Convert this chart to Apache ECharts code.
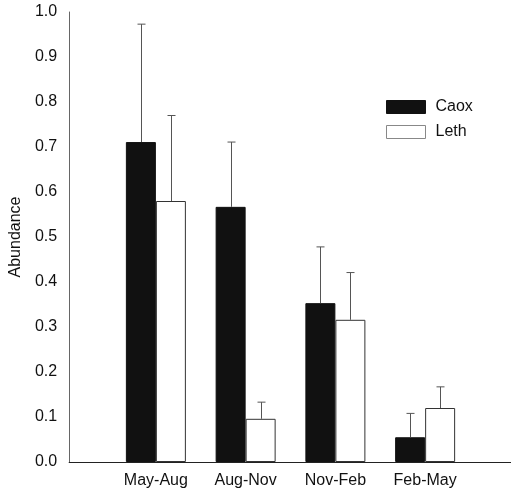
<!DOCTYPE html>
<html>
<head>
<meta charset="utf-8">
<script src="https://cdn.jsdelivr.net/npm/echarts@6/dist/echarts.min.js"></script>
<style>
  html, body { margin: 0; padding: 0; background: #fff; }
  #chart { width: 511px; height: 491px; }
</style>
</head>
<body>
<div id="chart"></div>
<script>
const periods = ["May-Aug", "Aug-Nov", "Nov-Feb", "Feb-May"];
const caoxMean = [0.711, 0.567, 0.353, 0.055];
const caoxSE = [0.262, 0.144, 0.125, 0.053];
const lethMean = [0.58, 0.096, 0.316, 0.12];
const lethSE = [0.19, 0.037, 0.105, 0.047];
const yTicks = [0, 0.1, 0.2, 0.3, 0.4, 0.5, 0.6, 0.7, 0.8, 0.9, 1.0];

const BAR_W = 30;
const font = "'Liberation Sans', Arial, sans-serif";

const chart = echarts.init(document.getElementById("chart"));

// error bars: side -1 = Caox (left), +1 = Leth (right)
const errorSeries = (mean, se, side) => ({
  type: "custom",
  xAxisIndex: 0,
  yAxisIndex: 0,
  z: 5,
  silent: true,
  data: mean.map((m, i) => [i, m, m + se[i]]),
  renderItem: (params, api) => {
    const base = api.coord([api.value(0), api.value(1)]);
    const top = api.coord([api.value(0), api.value(2)]);
    const x = Math.round(base[0] + (side * BAR_W) / 2) + 0.5;
    const style = { stroke: "#555", lineWidth: 1 };
    return {
      type: "group",
      children: [
        { type: "line", shape: { x1: x, y1: base[1], x2: x, y2: top[1] }, style },
        { type: "line", shape: { x1: x - 4, y1: top[1], x2: x + 4, y2: top[1] }, style },
      ],
    };
  },
});

const option = {
  animation: false,
  backgroundColor: "#fff",
  textStyle: { fontFamily: font },
  grid: [
    { left: 111, right: 41, top: 12, bottom: 29 },
    { left: 65, right: 0, top: 12, bottom: 29 },
  ],
  legend: {
    orient: "vertical",
    left: 386,
    top: 99,
    padding: 0,
    itemWidth: 39,
    itemHeight: 13,
    itemGap: 9,
    icon: "rect",
    textStyle: { fontSize: 16, color: "#111", fontFamily: font, padding: [0, 0, 0, 5] },
    data: [
      { name: "Caox", itemStyle: { color: "#111", borderColor: "#111", borderWidth: 1 } },
      { name: "Leth", itemStyle: { color: "#fff", borderColor: "#888", borderWidth: 1 } },
    ],
  },
  xAxis: [
    {
      type: "category",
      gridIndex: 0,
      data: periods,
      axisLine: { show: false },
      axisTick: { show: false },
      axisLabel: { fontSize: 16, color: "#111", margin: 11, fontFamily: font },
    },
    {
      type: "category",
      gridIndex: 1,
      data: [""],
      axisLine: { lineStyle: { color: "#222", width: 1 } },
      axisTick: { show: false },
      axisLabel: { show: false },
    },
  ],
  yAxis: [
    {
      type: "value",
      gridIndex: 0,
      min: 0,
      max: 1,
      interval: 0.1,
      show: false,
      splitLine: { show: false },
    },
    {
      type: "value",
      gridIndex: 1,
      min: 0,
      max: 1,
      interval: 0.1,
      splitLine: { show: false },
      axisLine: { show: true, lineStyle: { color: "#666", width: 1 } },
      axisTick: { show: false },
      axisLabel: {
        fontSize: 16,
        color: "#111",
        margin: 12,
        fontFamily: font,
        formatter: (v) => (yTicks.some((t) => Math.abs(t - v) < 1e-6) ? v.toFixed(1) : ""),
      },
      name: "Abundance",
      nameLocation: "middle",
      nameRotate: 90,
      nameGap: 44,
      nameTextStyle: { fontSize: 16, color: "#111", fontFamily: font },
    },
  ],
  series: [
    {
      name: "Caox",
      type: "bar",
      xAxisIndex: 0,
      yAxisIndex: 0,
      data: caoxMean,
      barWidth: BAR_W,
      barGap: "0%",
      itemStyle: { color: "#111", borderColor: "#111", borderWidth: 1 },
    },
    {
      name: "Leth",
      type: "bar",
      xAxisIndex: 0,
      yAxisIndex: 0,
      data: lethMean,
      barWidth: BAR_W,
      barGap: "0%",
      itemStyle: { color: "#fff", borderColor: "#333", borderWidth: 1 },
    },
    errorSeries(caoxMean, caoxSE, -1),
    errorSeries(lethMean, lethSE, 1),
  ],
};

chart.setOption(option);
</script>
</body>
</html>
